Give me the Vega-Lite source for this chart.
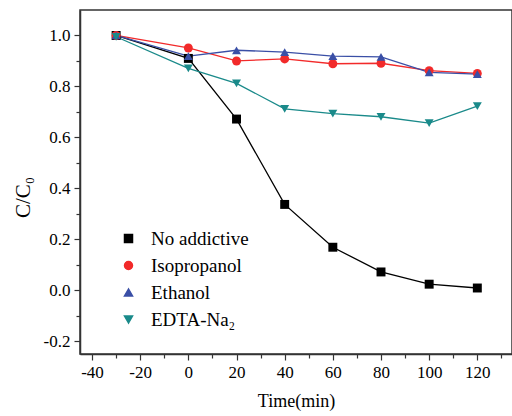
{
  "$schema": "https://vega.github.io/schema/vega-lite/v6.json",
  "width": 432,
  "height": 344,
  "autosize": {"type": "none"},
  "padding": {"left": 80, "top": 10, "right": 0, "bottom": 62},
  "background": "white",
  "config": {
    "font": "Liberation Serif",
    "view": {"stroke": "#333", "strokeWidth": 1.5},
    "axis": {
      "labelFont": "Liberation Serif", "labelFontSize": 17, "labelColor": "black",
      "titleFont": "Liberation Serif", "titleFontSize": 18, "titleColor": "black", "titleFontWeight": "normal",
      "domainColor": "#333", "domainWidth": 1.5, "tickColor": "#333", "tickWidth": 1.2, "tickSize": 6,
      "grid": false, "labelPadding": 4
    },
    "legend": {"labelFont": "Liberation Serif", "labelFontSize": 19, "labelColor": "black"}
  },
  "data": {"values": [
    {"t": -30, "v": 1.0, "s": "No addictive"},
    {"t": 0, "v": 0.91, "s": "No addictive"},
    {"t": 20, "v": 0.672, "s": "No addictive"},
    {"t": 40, "v": 0.337, "s": "No addictive"},
    {"t": 60, "v": 0.169, "s": "No addictive"},
    {"t": 80, "v": 0.072, "s": "No addictive"},
    {"t": 100, "v": 0.024, "s": "No addictive"},
    {"t": 120, "v": 0.009, "s": "No addictive"},
    {"t": -30, "v": 1.0, "s": "Isopropanol"},
    {"t": 0, "v": 0.951, "s": "Isopropanol"},
    {"t": 20, "v": 0.900, "s": "Isopropanol"},
    {"t": 40, "v": 0.908, "s": "Isopropanol"},
    {"t": 60, "v": 0.889, "s": "Isopropanol"},
    {"t": 80, "v": 0.891, "s": "Isopropanol"},
    {"t": 100, "v": 0.862, "s": "Isopropanol"},
    {"t": 120, "v": 0.851, "s": "Isopropanol"},
    {"t": -30, "v": 1.0, "s": " Ethanol"},
    {"t": 0, "v": 0.919, "s": " Ethanol"},
    {"t": 20, "v": 0.942, "s": " Ethanol"},
    {"t": 40, "v": 0.935, "s": " Ethanol"},
    {"t": 60, "v": 0.919, "s": " Ethanol"},
    {"t": 80, "v": 0.916, "s": " Ethanol"},
    {"t": 100, "v": 0.855, "s": " Ethanol"},
    {"t": 120, "v": 0.848, "s": " Ethanol"},
    {"t": -30, "v": 0.995, "s": "EDTA-Na₂"},
    {"t": 0, "v": 0.871, "s": "EDTA-Na₂"},
    {"t": 20, "v": 0.812, "s": "EDTA-Na₂"},
    {"t": 40, "v": 0.712, "s": "EDTA-Na₂"},
    {"t": 60, "v": 0.693, "s": "EDTA-Na₂"},
    {"t": 80, "v": 0.681, "s": "EDTA-Na₂"},
    {"t": 100, "v": 0.656, "s": "EDTA-Na₂"},
    {"t": 120, "v": 0.723, "s": "EDTA-Na₂"}
  ]},
  "layer": [
    {
      "mark": {"type": "line", "strokeWidth": 1.3},
      "encoding": {
        "x": {"field": "t", "type": "quantitative", "scale": {"domain": [-45, 134.4], "nice": false, "zero": false},
              "axis": {"values": [-40, -20, 0, 20, 40, 60, 80, 100, 120], "labelExpr": "replace(datum.label, '−', '-')", "title": "Time(min)", "titlePadding": 12, "orient": "bottom"}},
        "y": {"field": "v", "type": "quantitative", "scale": {"domain": [-0.25, 1.1], "nice": false, "zero": false},
              "axis": {"values": [-0.2, 0, 0.2, 0.4, 0.6, 0.8, 1.0], "format": ".1f", "labelExpr": "replace(datum.label, '−', '-')", "title": "C/C₀", "titleFontSize": 21, "titlePadding": 10, "titleY": 187, "orient": "left"}},
        "color": {"field": "s", "type": "nominal", "title": null,
                  "scale": {"domain": ["No addictive", "Isopropanol", " Ethanol", "EDTA-Na₂"], "range": ["#000000", "#f22a2a", "#3a4fa6", "#1a8a8a"]}}
      }
    },
    {
      "mark": {"type": "point", "filled": true, "opacity": 1, "size": 80},
      "encoding": {
        "x": {"field": "t", "type": "quantitative", "axis": null},
        "y": {"field": "v", "type": "quantitative", "axis": null},
        "color": {"field": "s", "type": "nominal", "title": null,
                  "legend": {"orient": "none", "legendX": 39, "legendY": 219, "rowPadding": 7, "symbolSize": 64, "labelOffset": 13, "symbolOpacity": 1}},
        "shape": {"field": "s", "type": "nominal", "title": null,
                  "scale": {"domain": ["No addictive", "Isopropanol", " Ethanol", "EDTA-Na₂"], "range": ["square", "circle", "triangle-up", "triangle-down"]}}
      }
    },
    {
      "mark": {"type": "point", "opacity": 0},
      "encoding": {
        "x": {"field": "t", "type": "quantitative",
              "axis": {"values": [-30, -10, 10, 30, 50, 70, 90, 110, 130], "labels": false, "domain": false, "tickSize": 4, "title": null, "orient": "bottom"}},
        "y": {"field": "v", "type": "quantitative",
              "axis": {"values": [-0.1, 0.1, 0.3, 0.5, 0.7, 0.9], "labels": false, "domain": false, "tickSize": 4, "title": null, "orient": "left"}}
      }
    }
  ],
  "resolve": {"axis": {"x": "independent", "y": "independent"}}
}
